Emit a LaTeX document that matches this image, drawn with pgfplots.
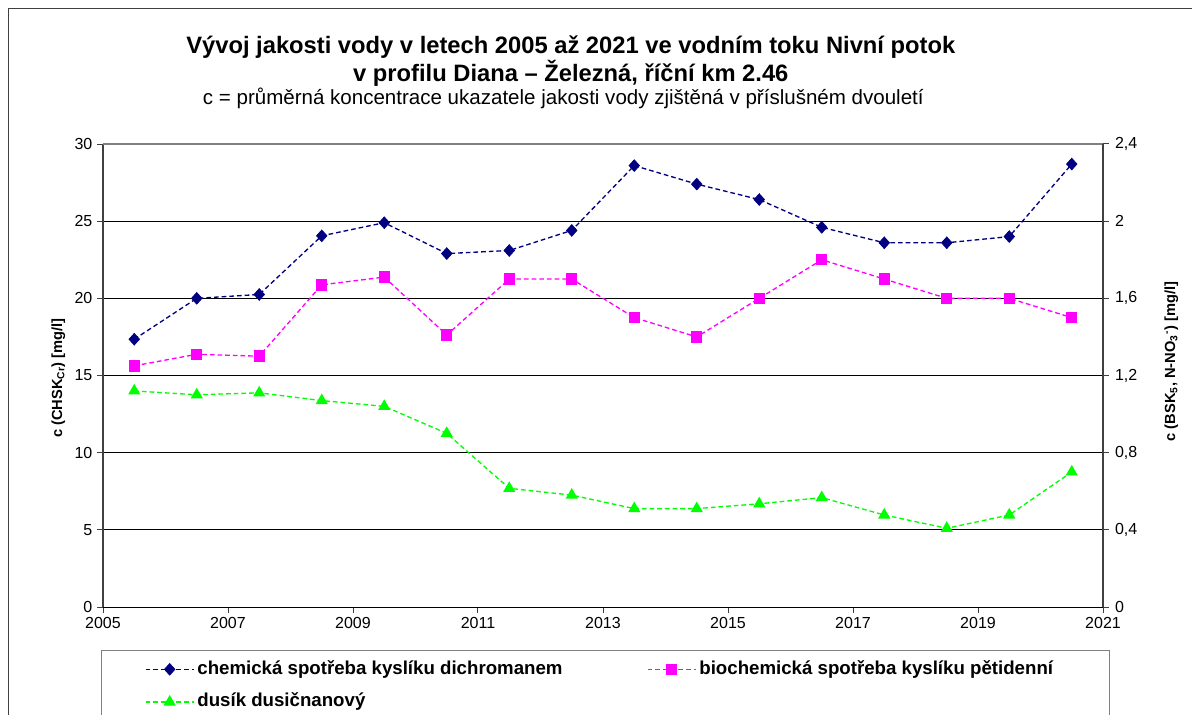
\documentclass[border=0pt]{standalone}
\usepackage{pgfplots}
\pgfplotsset{compat=1.18}
\usepackage{fontspec}
\setmainfont{Liberation Sans}

\definecolor{chsk}{HTML}{000080}
\definecolor{bsk}{HTML}{FF00FF}
\definecolor{dus}{HTML}{00FF00}
\definecolor{axgray}{HTML}{404040}

\pgfplotsset{
  ser/.style={line width=1pt, dash pattern=on 3.5pt off 2.25pt, mark options={solid}},
  ticks12/.style={font=\fontsize{12}{14}\selectfont},
  dia/.style={mark=diamond*, mark size=4.4pt, mark options={solid, xscale=1.2, line width=0.5pt}},
}

\begin{document}
\begin{tikzpicture}
\useasboundingbox (0,0) rectangle (894pt,535.5pt);
\clip (0,0) rectangle (894pt,535.5pt);
% chart area frame (runs off the page on the right and bottom)
\draw[axgray, line width=0.75pt] (6pt,-20pt) -- (6pt,528.75pt) -- (920pt,528.75pt);

\node[anchor=base, font=\fontsize{17.8}{20}\selectfont\bfseries] at (428.1pt,495.5pt)
  {Vývoj jakosti vody v letech 2005 až 2021 ve vodním toku Nivní potok};
\node[anchor=base, font=\fontsize{17.8}{20}\selectfont\bfseries] at (428.1pt,474.2pt)
  {v profilu Diana – Železná, říční km 2.46};
\node[anchor=base, font=\fontsize{15.4}{17}\selectfont] at (422.5pt,457pt)
  {c = průměrná koncentrace ukazatele jakosti vody zjištěná v příslušném dvouletí};

% left axis: CHSK
\begin{axis}[
  at={(77.25pt,80.25pt)}, anchor=south west,
  scale only axis, width=750pt, height=347.25pt,
  xmin=2005, xmax=2021, ymin=0, ymax=30,
  xtick={2005,2007,...,2021}, ytick={0,5,10,15,20,25,30},
  axis x line*=bottom, axis y line*=left,
  ymajorgrids, grid style={black, line width=0.75pt},
  tick align=outside, major tick length=4.5pt,
  x axis line style={black, line width=0.75pt, -},
  y axis line style={axgray, line width=1.5pt, -},
  every tick/.style={axgray, line width=0.75pt},
  /pgf/number format/assume math mode=true,
  /pgf/number format/1000 sep={},
  xticklabel style={ticks12},
  yticklabel style={ticks12},
  ylabel={c (CHSK\textsubscript{Cr}) [mg/l]},
  ylabel style={font=\fontsize{11}{13}\selectfont\bfseries, xshift=-2pt},
  clip=false,
]
\addplot[chsk, ser, dia] coordinates {
  (2005.5,17.35) (2006.5,20.0) (2007.5,20.25) (2008.5,24.05) (2009.5,24.9)
  (2010.5,22.9) (2011.5,23.1) (2012.5,24.4) (2013.5,28.6) (2014.5,27.4)
  (2015.5,26.4) (2016.5,24.6) (2017.5,23.6) (2018.5,23.6) (2019.5,24.0)
  (2020.5,28.7)};
\draw[gray, line width=1pt] (rel axis cs:0,1) -- (rel axis cs:1,1);
\end{axis}

% right axis: BSK5 and N-NO3
\begin{axis}[
  at={(77.25pt,80.25pt)}, anchor=south west,
  scale only axis, width=750pt, height=347.25pt,
  xmin=2005, xmax=2021, ymin=0, ymax=2.4,
  ytick={0,0.4,0.8,1.2,1.6,2,2.4},
  axis x line=none, axis y line*=right,
  tick align=outside, major tick length=4.5pt,
  y axis line style={axgray, line width=1.5pt, -},
  every tick/.style={axgray, line width=0.75pt},
  /pgf/number format/assume math mode=true,
  yticklabel style={ticks12, xshift=1pt, /pgf/number format/.cd, fixed, use comma, precision=1},
  ylabel={c (BSK\textsubscript{5}, N-NO\textsubscript{3}\textsuperscript{-}) [mg/l]},
  ylabel style={font=\fontsize{11}{13}\selectfont\bfseries, at={(ticklabel cs:0.53)}, yshift=-13.5pt},
  legend columns=2,
  legend cell align=left,
  legend image code/.code={\draw[mark repeat=2,mark phase=2,#1] plot coordinates {(0pt,0pt)(18pt,0pt)(36pt,0pt)};},
  legend style={at={(-0.0013,-0.0929)}, anchor=north west, draw=gray, line width=0.75pt,
    outer sep=0pt, inner xsep=32.5pt, inner ysep=8pt, column sep=2.25pt, row sep=11.5pt,
    font=\fontsize{14}{16}\selectfont\bfseries,
    nodes={inner sep=0pt, text height=10pt, text depth=3pt}},
  clip=false,
]
\addlegendimage{chsk, ser, dia}
\addlegendentry{\makebox[335pt][l]{chemická spotřeba kyslíku dichromanem}}
\addplot[bsk, ser, mark=square*, mark size=3.8pt] coordinates {
  (2005.5,1.25) (2006.5,1.31) (2007.5,1.30) (2008.5,1.67) (2009.5,1.71)
  (2010.5,1.41) (2011.5,1.70) (2012.5,1.70) (2013.5,1.50) (2014.5,1.40)
  (2015.5,1.60) (2016.5,1.80) (2017.5,1.70) (2018.5,1.60) (2019.5,1.60)
  (2020.5,1.50)};
\addlegendentry{\makebox[275pt][l]{biochemická spotřeba kyslíku pětidenní}}
\addplot[dus, ser, mark=triangle*, mark size=4.3pt] coordinates {
  (2005.5,1.12) (2006.5,1.10) (2007.5,1.11) (2008.5,1.07) (2009.5,1.04)
  (2010.5,0.90) (2011.5,0.615) (2012.5,0.58) (2013.5,0.51) (2014.5,0.51)
  (2015.5,0.535) (2016.5,0.567) (2017.5,0.477) (2018.5,0.408) (2019.5,0.477)
  (2020.5,0.70)};
\addlegendentry{dusík dusičnanový}
\end{axis}
\end{tikzpicture}
\end{document}
